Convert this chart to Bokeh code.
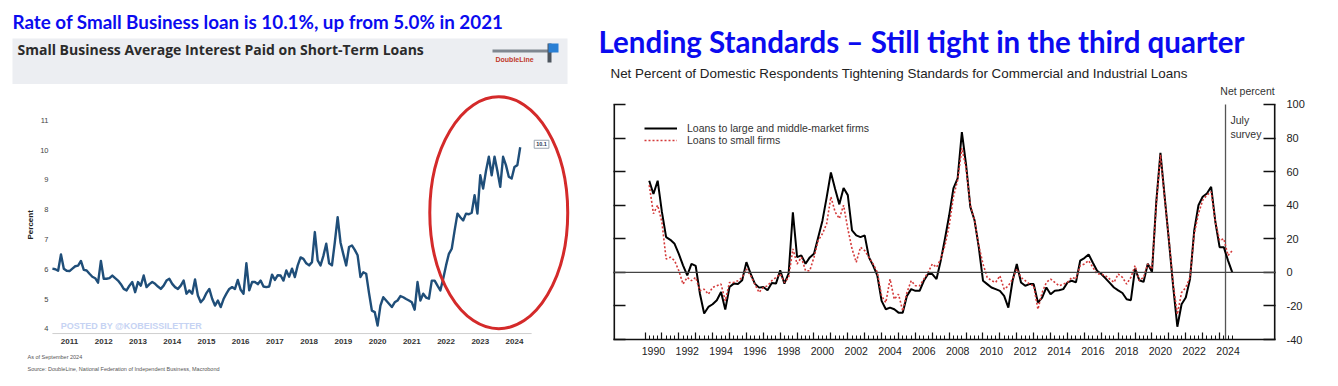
import math
from bokeh.plotting import figure
from bokeh.models import (Label, BoxAnnotation, Span, LinearAxis, FixedTicker,
                          Legend, LegendItem, Range1d, Title)
from bokeh.layouts import row, column
from bokeh.embed import file_html
from bokeh.resources import INLINE

# ---------------- Left chart data (monthly, Jan 2011 - Sep 2024) ----------------
rate_start_year = 2011
small_biz_rate = [
    6.02, 6.00, 5.95, 6.50, 6.02, 5.95, 5.94, 6.02, 6.10, 6.12, 6.28, 5.98,
    5.96, 5.85, 5.75, 5.70, 5.55, 6.28, 5.68, 5.68, 5.70, 5.79, 5.70, 5.62,
    5.50, 5.34, 5.29, 5.45, 5.57, 5.23, 5.57, 5.45, 5.79, 5.40, 5.50, 5.57,
    5.51, 5.42, 5.34, 5.45, 5.62, 5.68, 5.51, 5.40, 5.34, 5.45, 5.62, 5.18,
    5.29, 5.18, 5.66, 5.12, 4.89, 5.00, 5.20, 5.34, 5.01, 4.78, 4.95, 4.73,
    5.00, 5.18, 5.34, 5.40, 5.34, 5.64, 5.31, 5.18, 6.20, 5.29, 5.57, 5.57,
    5.50, 5.62, 5.42, 5.40, 5.42, 5.82, 5.64, 5.80, 5.79, 5.62, 5.96, 5.75,
    6.02, 5.74, 6.13, 6.40, 6.35, 6.20, 6.13, 6.24, 7.25, 6.30, 6.13, 6.45,
    6.86, 6.20, 6.13, 6.90, 7.75, 6.90, 6.50, 6.13, 6.75, 6.80, 6.65, 6.47,
    5.74, 5.90, 5.85, 5.20, 4.61, 4.56, 4.11, 4.78, 5.06, 4.95, 4.84, 4.73,
    4.89, 4.95, 5.10, 5.06, 5.00, 4.95, 4.89, 4.64, 5.57, 4.95, 5.18, 5.05,
    5.01, 5.62, 5.62, 5.45, 5.29, 5.68, 6.13, 6.52, 6.69, 7.30, 7.87, 7.75,
    7.64, 7.87, 7.85, 7.90, 8.49, 7.87, 9.16, 8.71, 9.30, 9.78, 9.16, 9.78,
    9.30, 8.77, 9.78, 9.50, 9.11, 9.05, 9.44, 9.50, 10.10,
]
rate_dates = [rate_start_year + m / 12 for m in range(len(small_biz_rate))]
rate_years = list(range(2011, 2025))
rate_y_ticks = [4, 5, 6, 7, 8, 9, 10, 11]
rate_last_label = "10.1"
rate_axis_floor = 3.84                # level of the light baseline
highlight_center = (2024.04, 7.90)   # red ellipse (years, percent)
highlight_size = (4.03, 7.8)
watermark_pos = (2011.24, 4.08)

# ---------------- Right chart data (quarterly SLOOS, 1990Q2 - 2024Q4) ----------------
sloos_start = 1990.25
loans_large_mid = [
    54.6, 46.7, 54.6, 36.0, 21.0, 19.4, 17.0, 11.0, 4.2, -1.8,
    5.1, 3.8, -12.7, -24.5, -20.6, -19.0, -16.6, -11.7, -22.2, -8.7,
    -6.7, -6.9, -4.7, 6.1, -0.8, -6.7, -9.1, -8.7, -10.7, -6.3,
    -6.7, 1.2, -6.7, -0.6, 35.8, 9.1, 10.1, 5.1, 8.9, 11.1,
    20.9, 30.8, 44.7, 59.5, 49.6, 40.5, 50.2, 46.0, 25.0, 22.0,
    21.0, 22.0, 9.0, 4.0, -2.0, -17.0, -22.0, -21.0, -22.0, -24.0,
    -24.0, -14.0, -10.0, -11.0, -11.0, -5.0, -1.0, -1.0, -4.0, 7.0,
    20.0, 34.0, 50.0, 56.0, 83.6, 64.0, 39.0, 31.0, 15.0, -5.0,
    -7.0, -9.0, -10.0, -11.0, -14.0, -21.0, -5.0, 5.0, -6.0, -8.0,
    -7.0, -7.0, -18.0, -15.0, -9.0, -13.0, -11.0, -10.7, -10.0, -6.0,
    -5.0, -6.0, 7.0, 8.5, 10.7, 5.7, 1.0, -1.0, -3.6, -6.3,
    -9.0, -10.7, -12.3, -16.0, -16.6, 2.2, -4.7, -5.7, 5.1, 0.2,
    41.5, 71.2, 45.0, 19.0, -8.0, -32.4, -19.0, -15.0, -4.0, 25.0,
    40.0, 45.0, 47.0, 51.0, 30.0, 15.0, 15.0, 7.0, 0.0,
]
loans_small = [
    52.0, 35.0, 40.0, 30.0, 8.0, 9.0, 7.0, 1.0, -7.0, -3.0,
    -5.0, -3.0, -11.0, -10.0, -13.0, -9.0, -8.0, -7.0, -17.0, -6.0,
    -6.0, -5.0, -3.0, 2.0, -2.0, -7.0, -12.0, -9.0, -8.0, -5.0,
    -3.0, -1.0, -6.0, -3.0, 14.0, 5.0, 9.0, 1.0, 1.0, 9.0,
    19.0, 23.0, 29.0, 45.0, 36.0, 32.0, 40.0, 26.0, 14.0, 6.0,
    15.0, 13.0, 9.0, 5.0, 0.0, -14.0, -18.0, -4.0, -16.0, -13.0,
    -23.0, -12.0, -5.0, -8.0, -8.0, -4.0, 0.0, 5.0, 3.0, 8.0,
    16.0, 28.0, 45.0, 55.0, 74.0, 62.0, 40.0, 31.0, 16.0, 5.0,
    -3.0, -5.0, -6.0, -2.0, -10.0, -8.0, -4.0, 2.0, -3.0, -5.0,
    -7.0, -8.0, -22.0, -12.0, -6.0, -4.0, -6.0, -8.0, -7.0, -6.0,
    -3.0, -4.0, 4.0, 5.0, 7.0, 3.0, -1.0, -1.0, -2.0, -4.0,
    -6.0, -1.0, -3.0, -7.0, -3.0, 4.0, -5.0, -3.0, 5.0, 2.0,
    40.0, 70.0, 44.0, 20.0, -7.0, -25.0, -12.0, -9.0, -3.0, 23.0,
    35.0, 43.0, 46.0, 48.0, 30.0, 19.0, 20.0, 10.0, 13.0,
]
sloos_dates = [sloos_start + 0.25 * i for i in range(len(loans_large_mid))]
sloos_label_years = list(range(1990, 2025, 2))
sloos_tick_years = list(range(1990, 2025))
net_ticks = [-40, -20, 0, 20, 40, 60, 80, 100]
net_tick_labels = ["-40", "-20", "0", "20", "40", "60", "80", "100"]
survey_marker = 2024.35

BLUE = "#0B0BEF"
HEAD_H = 84
CHART_H = 300
LW, RW = 578, 760


def canvas_label(p, x, y, text, **kw):
    p.add_layout(Label(x=x, y=y, x_units="canvas", y_units="canvas", text=text,
                       text_baseline="middle", **kw))


def canvas_box(p, left, right, top, bottom, color):
    p.add_layout(BoxAnnotation(left=left, right=right, top=top, bottom=bottom,
                               left_units="canvas", right_units="canvas",
                               top_units="canvas", bottom_units="canvas",
                               fill_color=color, fill_alpha=1, line_color=None))


# ============================ HEADER (both panels) ============================
head = figure(width=LW + RW, height=HEAD_H, output_backend="svg", toolbar_location=None, title=None,
              x_range=Range1d(0, LW + RW), y_range=Range1d(HEAD_H, 0),
              x_axis_type=None, y_axis_type=None,
              min_border_left=0, min_border_right=0, min_border_top=0, min_border_bottom=0)
head.outline_line_color = None
head.background_fill_color = "white"
head.border_fill_color = "white"

canvas_box(head, 12, 567, 38, 84, "#ECEEF2")
canvas_box(head, 492, 552, 49, 52, "#7F8790")
canvas_box(head, 547, 551, 43, 62, "#4D555E")
canvas_box(head, 548, 558, 43, 52, "#2A7FD4")
canvas_label(head, 495, 59, "DoubleLine", text_font="Liberation Sans", text_font_size="7px",
             text_font_style="bold", text_color="#C0392B")
canvas_label(head, 12, 21, "Rate of Small Business loan is 10.1%, up from 5.0% in 2021",
             text_font="Lato", text_font_size="18.8px", text_font_style="bold", text_color=BLUE)
canvas_label(head, 17, 49, "Small Business Average Interest Paid on Short-Term Loans",
             text_font="Open Sans", text_font_size="14px", text_font_style="bold",
             text_color="#2B2B2B")
canvas_label(head, 598, 41, "Lending Standards \u2013 Still tight in the third quarter",
             text_font="Lato", text_font_size="29.5px", text_font_style="bold", text_color=BLUE)
canvas_label(head, 610, 73,
             "Net Percent of Domestic Respondents Tightening Standards for Commercial and Industrial Loans",
             text_font="Liberation Sans", text_font_size="13.4px", text_color="#222222")

# ============================ LEFT CHART ============================
L = figure(width=LW, height=CHART_H, output_backend="svg", toolbar_location=None, title=None,
           x_range=Range1d(2010.944, 2026.136), y_range=Range1d(3.640, 12.209),
           x_axis_type=None, y_axis_type=None,
           min_border_left=50, min_border_right=8, min_border_top=0,
           min_border_bottom=HEAD_H + CHART_H - 339)
L.outline_line_color = None
L.background_fill_color = "white"
L.border_fill_color = "white"

ly = LinearAxis(ticker=FixedTicker(ticks=rate_y_ticks, minor_ticks=[]),
                axis_line_color=None, major_tick_line_color=None, minor_tick_line_color=None,
                major_tick_out=0, major_tick_in=0,
                major_label_standoff=2, major_label_text_font_size="7.5px",
                major_label_text_font="Liberation Sans", major_label_text_color="#444444")
L.add_layout(ly, "left")

lx = LinearAxis(ticker=FixedTicker(ticks=[y + 0.5 for y in rate_years], minor_ticks=[]),
                major_label_overrides={y + 0.5: str(y) for y in rate_years},
                axis_line_color=None, major_tick_line_color=None, minor_tick_line_color=None,
                major_tick_out=0, major_tick_in=0,
                major_label_standoff=-1, major_label_text_font_size="8px",
                major_label_text_font="Liberation Sans", major_label_text_color="#333333",
                major_label_text_font_style="bold")
L.add_layout(lx, "below")

L.add_layout(Title(text="As of September 2024", align="left", offset=-23, standoff=11,
                   text_font="Liberation Sans", text_font_size="5.5px",
                   text_font_style="normal", text_color="#555555"), "below")
L.add_layout(Title(text="Source: DoubleLine, National Federation of Independent Business, Macrobond",
                   align="left", offset=-23, standoff=-4,
                   text_font="Liberation Sans", text_font_size="5.5px",
                   text_font_style="normal", text_color="#555555"), "below")
L.add_layout(Title(text="Percent", align="left", offset=100, standoff=5,
                   text_font="Liberation Sans", text_font_size="8px",
                   text_font_style="bold", text_color="#222222"), "left")

L.segment(x0=[rate_years[0]], x1=[rate_years[-1] + 1], y0=[rate_axis_floor], y1=[rate_axis_floor],
          line_color="#CFCFCF", line_width=1)

L.line(rate_dates, small_biz_rate, line_color="#1F4E79", line_width=2.4, line_join="round")

L.ellipse(x=[highlight_center[0]], y=[highlight_center[1]],
          width=highlight_size[0], height=highlight_size[1],
          fill_color=None, line_color="#D42A2A", line_width=3)

L.add_layout(Label(x=rate_dates[-1], y=small_biz_rate[-1], x_offset=14, y_offset=3,
                   text=rate_last_label, text_font_size="5.5px", text_font="Liberation Sans",
                   text_font_style="bold", text_color="#1F3550", text_baseline="middle",
                   border_line_color="#9AA4B0", background_fill_color="white", padding=2))

L.add_layout(Label(x=watermark_pos[0], y=watermark_pos[1], text="POSTED BY @KOBEISSILETTER",
                   text_font="Liberation Sans", text_font_size="9px", text_font_style="bold",
                   text_color="#C6D3F3", text_baseline="middle"))

# ============================ RIGHT CHART ============================
R = figure(width=RW, height=CHART_H, output_backend="svg", toolbar_location=None, title=None,
           x_range=Range1d(1988.136, 2027.308), y_range=Range1d(-40, 111.91),
           x_axis_type=None, y_axis_type=None,
           min_border_left=35, min_border_right=63, min_border_top=0,
           min_border_bottom=HEAD_H + CHART_H - 339)
R.outline_line_color = None
R.background_fill_color = "white"
R.border_fill_color = "white"

ax_left = LinearAxis(ticker=FixedTicker(ticks=net_ticks, minor_ticks=[]),
                     major_label_overrides={t: "" for t in net_ticks},
                     axis_line_color=None,
                     major_tick_line_color="#111111", major_tick_line_width=1.4,
                     major_tick_in=12, major_tick_out=0, minor_tick_line_color=None)
R.add_layout(ax_left, "left")

ax_right = LinearAxis(ticker=FixedTicker(ticks=net_ticks, minor_ticks=[]),
                      major_label_overrides={t: s for t, s in zip(net_ticks, net_tick_labels)},
                      axis_line_color=None,
                      major_tick_line_color="#111111", major_tick_line_width=1.4,
                      major_tick_in=12, major_tick_out=0, minor_tick_line_color=None,
                      major_label_standoff=11, major_label_text_font="Liberation Sans",
                      major_label_text_font_size="11px", major_label_text_color="#222222")
R.add_layout(ax_right, "right")

quarter_ticks = [y + q * 0.25 for y in sloos_tick_years for q in range(4)]
ax_ticks = LinearAxis(ticker=FixedTicker(ticks=[float(y) for y in sloos_tick_years],
                                         minor_ticks=quarter_ticks),
                      major_label_overrides={float(y): "" for y in sloos_tick_years},
                      axis_line_color="#111111", axis_line_width=1.6,
                      major_tick_line_color="#111111", major_tick_line_width=1.2,
                      major_tick_in=7, major_tick_out=0,
                      minor_tick_line_color="#111111", minor_tick_line_width=1,
                      minor_tick_in=4, minor_tick_out=0, major_label_standoff=0)
R.add_layout(ax_ticks, "below")

ax_years = LinearAxis(ticker=FixedTicker(ticks=[y + 0.5 for y in sloos_label_years], minor_ticks=[]),
                      major_label_overrides={y + 0.5: str(y) for y in sloos_label_years},
                      axis_line_color=None, major_tick_line_color=None, minor_tick_line_color=None,
                      major_tick_out=0, major_tick_in=0,
                      major_label_standoff=7, major_label_text_font="Liberation Sans",
                      major_label_text_font_size="10.5px", major_label_text_color="#222222")
R.add_layout(ax_years, "below")

R.segment(x0=[R.x_range.start, R.x_range.end], x1=[R.x_range.start, R.x_range.end],
          y0=[net_ticks[0]] * 2, y1=[net_ticks[-1]] * 2, line_color="#111111", line_width=3.2)
R.segment(x0=[survey_marker], x1=[survey_marker], y0=[net_ticks[0]], y1=[net_ticks[-1]],
          line_color="#555555", line_width=1.3)
R.add_layout(Span(location=0, dimension="width", line_color="#444444", line_width=1.3))

r_large = R.line(sloos_dates, loans_large_mid, line_color="#000000", line_width=2)
r_small = R.line(sloos_dates, loans_small, line_color="#D43A3A", line_width=1.6, line_dash="2 2")

legend = Legend(items=[LegendItem(label="Loans to large and middle-market firms", renderers=[r_large]),
                       LegendItem(label="Loans to small firms", renderers=[r_small])],
                location=(31, 193), orientation="vertical", background_fill_alpha=0,
                border_line_color=None, padding=0, margin=0, spacing=0,
                glyph_width=33, glyph_height=12, label_height=12, label_standoff=10,
                label_text_font="Liberation Sans", label_text_font_size="10.5px",
                label_text_color="#333333")
R.add_layout(legend)

canvas_label(R, 669, 90 - HEAD_H, "Net percent", text_font="Liberation Sans", text_font_size="10.5px",
             text_color="#333333", text_align="center")
canvas_label(R, 652, 119 - HEAD_H, "July", text_font="Liberation Sans", text_font_size="10.5px",
             text_color="#333333")
canvas_label(R, 652, 133 - HEAD_H, "survey", text_font="Liberation Sans", text_font_size="10.5px",
             text_color="#333333")

page = column(head, row(L, R, spacing=0), spacing=0)
open("out.html", "w").write(file_html(page, INLINE))
